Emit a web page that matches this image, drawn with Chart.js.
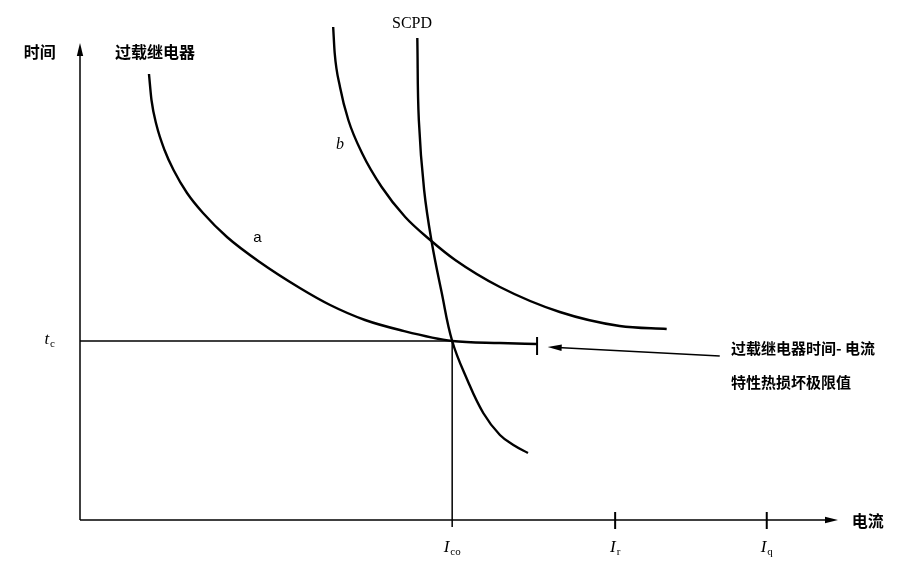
<!DOCTYPE html>
<html>
<head>
<meta charset="utf-8">
<script src="https://cdn.jsdelivr.net/npm/chart.js@4"></script>
<style>
html, body { margin: 0; padding: 0; background: #fff; }
</style>
</head>
<body>
<canvas id="myChart" width="921" height="562"></canvas>
<script>
// ----- values (arbitrary units: current 0..10, time 0..10) -----
const curveA_x = [0.91, 0.943, 1.009, 1.115, 1.234, 1.412, 1.623, 1.939, 2.37, 2.90, 3.30, 3.76, 4.22, 4.91, 5.54, 6.03];
const curveA_y = [8.92, 8.40, 7.90, 7.40, 7.00, 6.54, 6.14, 5.66, 5.16, 4.64, 4.30, 4.00, 3.80, 3.58, 3.54, 3.52];

const curveB_x = [3.34, 3.36, 3.43, 3.54, 3.72, 3.98, 4.29, 4.62, 4.95, 5.54, 6.33, 7.12, 7.74];
const curveB_y = [9.86, 9.34, 8.66, 8.00, 7.34, 6.66, 6.06, 5.60, 5.20, 4.66, 4.16, 3.88, 3.82];

const scpd_x = [4.45, 4.47, 4.54, 4.64, 4.77, 4.91, 5.11, 5.32, 5.54, 5.74, 5.91];
const scpd_y = [9.64, 8.00, 6.60, 5.56, 4.56, 3.58, 2.80, 2.14, 1.70, 1.48, 1.34];

const I_co = 4.91;   // SCPD / relay crossover current
const I_r = 7.06;
const I_q = 9.06;
const t_c = 3.58;
const limitX = 6.03;             // relay thermal damage limit
const xTickValues = [I_co, I_r, I_q];
const xTickLabels = [['I', 'co'], ['I', 'r'], ['I', 'q']];
const xAxisEnd = 10;
const yAxisEnd = 9.54;

function pts(xs, ys) {
    return xs.map((v, i) => ({x: v, y: ys[i]}));
}

function line(data, width, smooth) {
    let ds = {
        data: data,
        showLine: true,
        borderColor: '#000',
        borderWidth: width,
        pointRadius: 0,
        tension: 0,
        fill: false,
        clip: false
    };
    if (smooth === 'monotone') {
        ds.cubicInterpolationMode = 'monotone';
    } else if (smooth) {
        ds.tension = smooth;
    }
    return ds;
}

function arrowHead(ctx, x0, y0, x1, y1, len, half) {
    const a = Math.atan2(y1 - y0, x1 - x0);
    ctx.beginPath();
    ctx.moveTo(x1, y1);
    ctx.lineTo(x1 - len * Math.cos(a) + half * Math.sin(a), y1 - len * Math.sin(a) - half * Math.cos(a));
    ctx.lineTo(x1 - len * Math.cos(a) - half * Math.sin(a), y1 - len * Math.sin(a) + half * Math.cos(a));
    ctx.closePath();
    ctx.fill();
}

function subText(ctx, main, sub, cx, cy) {
    ctx.font = 'italic 17px "Liberation Serif"';
    const w1 = ctx.measureText(main).width;
    ctx.font = '11px "Liberation Serif"';
    const w2 = ctx.measureText(sub).width;
    const left = cx - (w1 + w2 + 1) / 2;
    ctx.textAlign = 'left';
    ctx.textBaseline = 'alphabetic';
    ctx.font = 'italic 17px "Liberation Serif"';
    ctx.fillText(main, left, cy + 6);
    ctx.font = '11px "Liberation Serif"';
    ctx.fillText(sub, left + w1 + 1, cy + 9);
}

const CJK = '"Noto Sans CJK SC", sans-serif';

const overlay = {
    id: 'overlay',
    afterDatasetsDraw(chart) {
        const ctx = chart.ctx;
        const x = chart.scales.x, y = chart.scales.y;
        const px = v => x.getPixelForValue(v), py = v => y.getPixelForValue(v);
        ctx.save();
        ctx.fillStyle = '#000';

        // axis arrows and annotation arrow
        arrowHead(ctx, px(0), py(0), px(xAxisEnd), py(0), 13, 3.2);
        arrowHead(ctx, px(0), py(0), px(0), py(yAxisEnd), 13, 3.2);
        arrowHead(ctx, px(8.44), py(3.28), px(6.17), py(3.46), 14, 3.2);

        // chinese labels
        ctx.textBaseline = 'middle';
        ctx.font = 'bold 16px ' + CJK;
        ctx.textAlign = 'center';
        ctx.fillText('时间', px(-0.53), py(9.36));
        ctx.fillText('过载继电器', px(0.99), py(9.36));
        ctx.textAlign = 'left';
        ctx.fillText('电流', px(10.18), py(-0.02));
        ctx.font = 'bold 15px ' + CJK;
        ctx.fillText('过载继电器时间- 电流', px(8.59), py(3.44));
        ctx.fillText('特性热损坏极限值', px(8.59), py(2.76));

        // curve names
        ctx.textAlign = 'center';
        ctx.font = '16px "Liberation Serif"';
        ctx.fillText('SCPD', px(4.38), py(9.92));
        ctx.font = '15px "Liberation Sans"';
        ctx.fillText('a', px(2.34), py(5.64));
        ctx.font = 'italic 16px "Liberation Serif"';
        ctx.fillText('b', px(3.43), py(7.50));

        // t_c and current tick labels
        subText(ctx, 't', 'c', px(-0.40), py(3.64));
        xTickValues.forEach((v, i) => {
            subText(ctx, xTickLabels[i][0], xTickLabels[i][1], px(v), py(-0.52));
        });
        ctx.restore();
    }
};

const datasets = [
    line(pts(curveA_x, curveA_y), 2.4, 'monotone'),
    line(pts(curveB_x, curveB_y), 2.4, 'monotone'),
    line(pts(scpd_x, scpd_y), 2.4, 0.4),
    line([{x: 0, y: t_c}, {x: I_co, y: t_c}], 1.5),
    line([{x: I_co, y: -0.14}, {x: I_co, y: t_c}], 1.5),
    line([{x: limitX, y: 3.66}, {x: limitX, y: 3.30}], 2),
    line([{x: I_r, y: -0.18}, {x: I_r, y: 0.16}], 2),
    line([{x: I_q, y: -0.18}, {x: I_q, y: 0.16}], 2),
    line([{x: 0, y: 0}, {x: xAxisEnd - 0.1, y: 0}], 1.5),
    line([{x: 0, y: 0}, {x: 0, y: yAxisEnd - 0.2}], 1.5),
    line([{x: 8.44, y: 3.28}, {x: 6.3, y: 3.45}], 1.3)
];

const config = {
    type: 'scatter',
    data: {datasets: datasets},
    options: {
        responsive: false,
        devicePixelRatio: 1,
        animation: false,
        layout: {padding: {left: 80, right: 83, top: 20, bottom: 42}},
        plugins: {legend: {display: false}, tooltip: {enabled: false}},
        scales: {
            x: {type: 'linear', min: 0, max: 10, display: false},
            y: {type: 'linear', min: 0, max: 10, display: false}
        }
    },
    plugins: [overlay]
};

new Chart(document.getElementById('myChart'), config);
</script>
</body>
</html>
